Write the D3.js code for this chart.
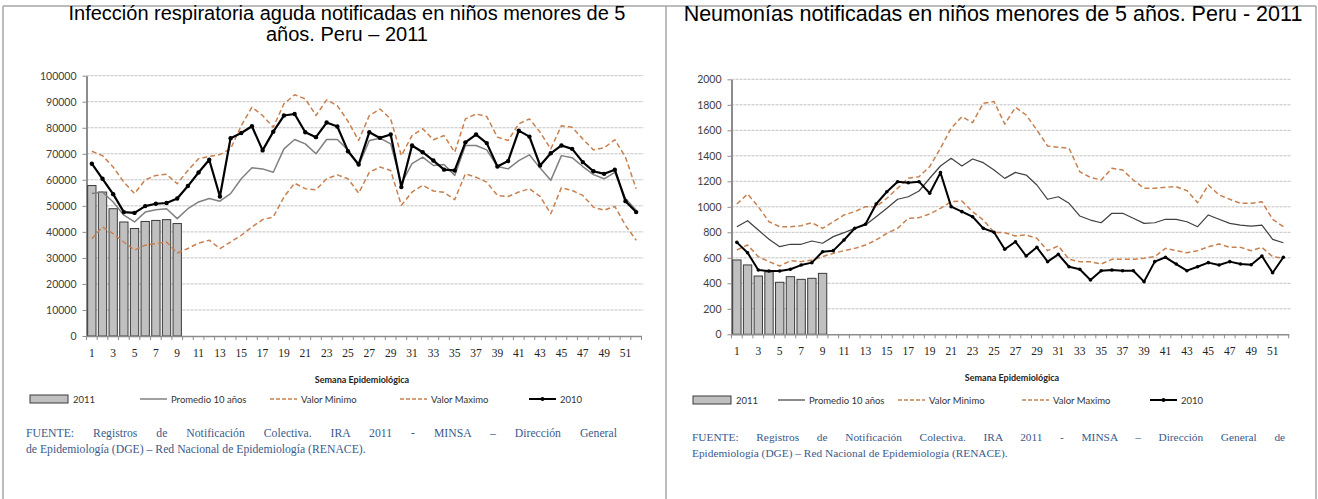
<!DOCTYPE html>
<html>
<head>
<meta charset="utf-8">
<script src="https://cdn.jsdelivr.net/npm/d3@7"></script>
<style>
  body { margin: 0; background: #fff; }
  svg { display: block; }
</style>
</head>
<body>
<svg id="chart" width="1318" height="499"></svg>
<script>
// semanas epidemiológicas
const weeks = d3.range(1, 53);
const legendLabels = ["2011", "Promedio 10 años", "Valor Minimo", "Valor Maximo", "2010"];

// IRA (infección respiratoria aguda)
const ira2011 = [57800, 55300, 48900, 43800, 41300, 44000, 44400, 44700, 43200];
const ira2010 = [66200, 60400, 54500, 47600, 47300, 49900, 50800, 51100, 52800, 57600,
  62800, 67700, 53600, 76000, 78000, 80600, 71300, 78500, 84700, 85300,
  78300, 76400, 82000, 80500, 71000, 65900, 78300, 76100, 77400, 57200,
  73200, 70600, 67400, 63900, 63600, 74400, 77400, 74100, 65100, 67200,
  78900, 76600, 65500, 70200, 73200, 71900, 66800, 63300, 62300, 63900,
  51800, 47600];
const iraProm = [54700, 55300, 51500, 46400, 43800, 47600, 48500, 48900, 45100, 48900,
  51500, 52800, 51800, 54700, 60400, 64600, 64200, 62900, 71900, 75500,
  73800, 70000, 75500, 75500, 71500, 65500, 75100, 76000, 73800, 58500,
  66200, 68700, 65500, 65900, 61700, 73200, 73200, 71500, 65100, 64200,
  67400, 69600, 64500, 59800, 69300, 68500, 65100, 62000, 60400, 62900,
  52800, 48300];
const iraMin = [37400, 41900, 39300, 36100, 33000, 34900, 35500, 36100, 31900, 33600,
  35700, 36800, 33600, 36100, 38700, 41900, 44700, 45700, 53400, 58700,
  56600, 56200, 60400, 61900, 60400, 54900, 62900, 64900, 63600, 50200,
  55300, 57900, 55700, 55200, 52400, 62300, 61000, 59100, 54000, 53600,
  55300, 56600, 53600, 47000, 57000, 55900, 54000, 49500, 48300, 49800,
  42500, 36800];
const iraMax = [71000, 69300, 64900, 59100, 54700, 60000, 61700, 62100, 58500, 63600,
  68100, 69000, 69700, 71900, 80800, 87900, 84700, 80200, 89200, 92700,
  91100, 84700, 90700, 88500, 82500, 75100, 84700, 87200, 83400, 69300,
  77000, 79600, 75400, 77000, 70600, 83400, 85300, 84300, 76400, 75100,
  81500, 83400, 78300, 71900, 80800, 80200, 75700, 71500, 72300, 75400,
  68700, 56600];

// Neumonías
const neu2011 = [583, 544, 457, 490, 408, 452, 431, 439, 478];
const neu2010 = [721, 640, 504, 496, 496, 510, 543, 562, 648, 656,
  740, 831, 863, 1022, 1118, 1197, 1189, 1197, 1106, 1268,
  1001, 962, 922, 831, 800, 667, 726, 614, 682, 570,
  627, 530, 510, 426, 499, 504, 499, 499, 413, 570,
  604, 551, 499, 530, 562, 543, 570, 551, 545, 614,
  483, 604];
const neuProm = [844, 891, 818, 745, 687, 706, 706, 732, 714, 766,
  797, 831, 857, 922, 988, 1059, 1079, 1124, 1224, 1320,
  1380, 1320, 1375, 1346, 1289, 1223, 1270, 1249, 1171, 1059,
  1079, 1027, 928, 896, 875, 949, 949, 910, 870, 875,
  902, 902, 883, 844, 936, 902, 870, 857, 849, 857,
  745, 718];
const neuMin = [661, 700, 609, 570, 536, 577, 570, 583, 609, 635,
  656, 674, 700, 740, 792, 831, 910, 915, 944, 988,
  1040, 1045, 962, 896, 800, 797, 771, 779, 753, 656,
  693, 588, 570, 570, 551, 588, 588, 588, 596, 609,
  674, 656, 640, 656, 687, 708, 682, 682, 656, 682,
  609, 596];
const neuMax = [1022, 1100, 1001, 883, 844, 844, 852, 875, 831, 883,
  936, 962, 1001, 1001, 1067, 1145, 1224, 1236, 1315, 1459,
  1616, 1707, 1660, 1812, 1825, 1649, 1780, 1720, 1602, 1477,
  1467, 1459, 1275, 1231, 1210, 1302, 1289, 1210, 1145, 1145,
  1153, 1158, 1127, 1032, 1171, 1093, 1059, 1027, 1027, 1040,
  902, 844];

const iraTitle = ["Infección respiratoria aguda notificadas en niños menores de 5", "años. Peru – 2011"];
const neuTitle = ["Neumonías notificadas en niños menores de 5 años. Peru - 2011"];
const iraFuente = ["FUENTE: Registros de Notificación Colectiva. IRA 2011  - MINSA – Dirección General",
  "de Epidemiología  (DGE) – Red Nacional de Epidemiología (RENACE)."];
const neuFuente = ["FUENTE: Registros de Notificación Colectiva. IRA 2011  - MINSA – Dirección General de",
  "Epidemiología  (DGE) – Red Nacional de Epidemiología (RENACE)."];

const svg = d3.select("#chart");
svg.append("rect").attr("width", 1318).attr("height", 499).attr("fill", "#fff");

// marco de la tabla
const frame = svg.append("g").attr("stroke", "#a6a6a6").attr("stroke-width", 1.5);
frame.append("line").attr("x1", 3).attr("x2", 1316).attr("y1", 6).attr("y2", 6);
[3, 666, 1316].forEach((xx) => {
  frame.append("line").attr("x1", xx).attr("x2", xx).attr("y1", 6).attr("y2", 499);
});

const ORANGE = "#c8804f";

function drawChart(o) {
  const g = svg.append("g");
  const x = d3.scaleBand().domain(weeks).range([o.left, o.right]);
  const y = d3.scaleLinear().domain([0, o.yMax]).range([o.bottom, o.top]);
  const cx = (w) => x(w) + x.bandwidth() / 2;
  const yTicks = d3.range(0, o.yMax + 1, o.yStep);

  // titulo
  g.append("g").selectAll("text").data(o.title).join("text")
    .attr("x", o.titleX).attr("y", (d, i) => o.titleY + i * 21)
    .attr("text-anchor", "middle")
    .attr("font-family", "Liberation Sans, Arial, sans-serif")
    .attr("font-size", o.titleSize).attr("fill", "#000")
    .text((d) => d);

  // lineas de cuadricula
  g.append("g").selectAll("line").data(yTicks.slice(1)).join("line")
    .attr("x1", o.left).attr("x2", o.right + 2)
    .attr("y1", (d) => y(d)).attr("y2", (d) => y(d))
    .attr("stroke", "#c2c2c2").attr("stroke-dasharray", "3,1");

  // eje y
  const yAxis = g.append("g").attr("transform", `translate(${o.left},0)`)
    .call(d3.axisLeft(y).tickValues(yTicks).tickFormat(d3.format("d"))
      .tickSize(4).tickPadding(6).tickSizeOuter(0));
  yAxis.select(".domain").attr("stroke", "#8c8c8c").attr("stroke-width", 2);
  yAxis.selectAll(".tick line").attr("stroke", "#8c8c8c");
  yAxis.selectAll("text").attr("font-family", "Lato, sans-serif").attr("font-size", 10.5).attr("fill", "#404040");

  // barras 2011
  g.append("g").selectAll("rect").data(o.bars).join("rect")
    .attr("x", (d, i) => x(weeks[i]) + x.bandwidth() * 0.11)
    .attr("width", x.bandwidth() * 0.78)
    .attr("y", (d) => y(d)).attr("height", (d) => y(0) - y(d))
    .attr("fill", "#c0c0c0").attr("stroke", "#3a3a3a").attr("stroke-width", 1);

  // eje x
  const xAxis = g.append("g").attr("transform", `translate(0,${o.bottom})`)
    .call(d3.axisBottom(x).tickValues(weeks.filter((w) => w % 2 === 1)).tickSize(0).tickPadding(13).tickSizeOuter(0));
  xAxis.select(".domain").attr("stroke", "#8c8c8c").attr("stroke-width", 1.5);
  xAxis.selectAll("text").attr("font-family", "Liberation Serif, serif").attr("font-size", 11.5).attr("fill", "#222");
  g.append("g").selectAll("line").data(d3.range(0, 53)).join("line")
    .attr("x1", (i) => o.left + i * x.step()).attr("x2", (i) => o.left + i * x.step())
    .attr("y1", o.bottom).attr("y2", o.bottom + 4)
    .attr("stroke", "#8c8c8c");

  g.append("text").attr("x", o.axisTitleX).attr("y", o.bottom + 47)
    .attr("text-anchor", "middle")
    .attr("font-family", "Lato, sans-serif").attr("font-weight", "bold").attr("font-size", 9)
    .attr("fill", "#222").text("Semana Epidemiológica");

  // series
  const line = d3.line().x((d, i) => cx(weeks[i])).y((d) => y(d));
  const series = [
    { data: o.prom, color: o.promColor, width: o.promWidth, dash: null },
    { data: o.min, color: ORANGE, width: 1.5, dash: "5,3" },
    { data: o.max, color: ORANGE, width: 1.5, dash: "5,3" },
    { data: o.y2010, color: "#000", width: o.lineWidth, dash: null }
  ];
  g.append("g").selectAll("path").data(series).join("path")
    .attr("d", (s) => line(s.data))
    .attr("fill", "none")
    .attr("stroke", (s) => s.color)
    .attr("stroke-width", (s) => s.width)
    .attr("stroke-dasharray", (s) => s.dash)
    .attr("stroke-linejoin", "round");
  g.append("g").selectAll("circle").data(o.y2010).join("circle")
    .attr("cx", (d, i) => cx(weeks[i])).attr("cy", (d) => y(d))
    .attr("r", o.markerR).attr("fill", "#000");

  // leyenda
  const lg = g.append("g").attr("transform", `translate(0,${o.legendY})`);
  const lp = o.legend;
  lg.append("rect").attr("x", lp[0]).attr("y", -4).attr("width", 38).attr("height", 8)
    .attr("fill", "#c0c0c0").attr("stroke", "#3a3a3a");
  const swatches = [
    null,
    { color: o.promColor, width: o.promWidth, dash: null },
    { color: ORANGE, width: 1.5, dash: "4,2" },
    { color: ORANGE, width: 1.5, dash: "4,2" },
    { color: "#000", width: 2, dash: null }
  ];
  swatches.forEach((s, i) => {
    if (!s) return;
    lg.append("line").attr("x1", lp[i]).attr("x2", lp[i] + 27).attr("y1", 0).attr("y2", 0)
      .attr("stroke", s.color).attr("stroke-width", s.width).attr("stroke-dasharray", s.dash);
  });
  lg.append("circle").attr("cx", lp[4] + 13.5).attr("cy", 0).attr("r", 2).attr("fill", "#000");
  lg.selectAll("text").data(legendLabels).join("text")
    .attr("x", (d, i) => lp[i] + (i === 0 ? 43 : 31)).attr("y", 3.5)
    .attr("font-family", "Lato, sans-serif").attr("font-size", 9.5).attr("fill", "#333")
    .text((d) => d);

  // fuente: parrafo justificado (la ultima linea a su ancho natural)
  const ft = g.append("g").selectAll("text").data(o.fuente).join("text")
    .attr("x", o.fuenteX).attr("y", (d, i) => o.fuenteY + i * 16)
    .attr("font-family", "Liberation Serif, serif").attr("font-size", 12)
    .attr("fill", "#3a5a8c")
    .text((d) => d);
  const last = ft.nodes()[1];
  const size = 12 * o.fuenteLastW / last.getComputedTextLength();
  ft.attr("font-size", size);
  const first = ft.nodes()[0];
  const spaces = (o.fuente[0].match(/ /g) || []).length;
  d3.select(first).attr("word-spacing", (o.fuenteW - first.getComputedTextLength()) / spaces);
}

drawChart({
  left: 86.5, right: 641.5, top: 75.7, bottom: 336,
  yMax: 100000, yStep: 10000,
  bars: ira2011, prom: iraProm, min: iraMin, max: iraMax, y2010: ira2010,
  promColor: "#808080", promWidth: 1.5, lineWidth: 2.2, markerR: 2.2,
  title: iraTitle, titleX: 347, titleY: 20, titleSize: 20,
  axisTitleX: 362, legendY: 399, legend: [30, 140, 270, 400, 529],
  fuente: iraFuente, fuenteX: 26, fuenteY: 437, fuenteW: 607, fuenteLastW: 340
});

drawChart({
  left: 731.5, right: 1288.7, top: 79.3, bottom: 334.3,
  yMax: 2000, yStep: 200,
  bars: neu2011, prom: neuProm, min: neuMin, max: neuMax, y2010: neu2010,
  promColor: "#404040", promWidth: 1.2, lineWidth: 2, markerR: 1.8,
  title: neuTitle, titleX: 993, titleY: 21, titleSize: 21.5,
  axisTitleX: 1012, legendY: 400, legend: [693, 778, 898, 1022, 1150],
  fuente: neuFuente, fuenteX: 692, fuenteY: 441, fuenteW: 608, fuenteLastW: 316
});
</script>
</body>
</html>
